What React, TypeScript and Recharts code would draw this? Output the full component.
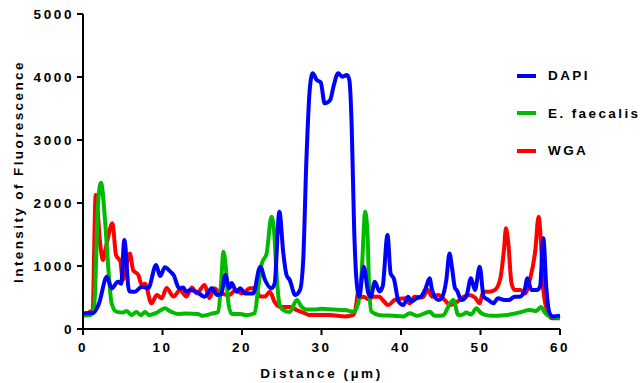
import React from 'react';
import { Label, Line, LineChart, XAxis, YAxis } from 'recharts';

// [distance µm, intensity] pairs
const dapi = [
  [0, 250], [1.3, 255], [2.0, 400], [3.0, 830], [3.6, 645], [4.4, 750], [4.8, 720], [5.2, 1413],
  [5.8, 600], [6.5, 590], [7.4, 672], [8.2, 645], [9.2, 1016], [9.7, 840], [10.3, 979], [11.0, 910],
  [11.4, 857], [12.1, 645], [12.6, 660], [13.0, 592], [13.5, 620], [14.3, 590], [15.3, 513], [16.2, 645],
  [16.9, 540], [17.4, 560], [17.9, 857], [18.4, 645], [18.7, 730], [19.3, 590], [19.75, 645], [20.4, 565],
  [21.4, 565], [22.3, 990], [22.9, 778], [23.7, 645], [24.1, 720], [24.7, 1862], [25.2, 1200], [25.6, 857],
  [26.0, 778], [26.7, 540], [27.3, 620], [27.7, 1095], [28.1, 2680], [28.55, 3846], [28.9, 4058], [29.4, 3952],
  [29.9, 3915], [30.4, 3582], [31.1, 3635], [31.5, 3846], [32.1, 4058], [32.6, 4005], [33.2, 4030], [33.5, 3952],
  [33.8, 3212], [34.1, 1624], [34.4, 778], [34.75, 513], [35.3, 990], [35.9, 566], [36.2, 513], [36.7, 750],
  [37.3, 595], [37.7, 680], [38.3, 1492], [38.7, 880], [39.1, 800], [39.7, 434], [40.3, 380], [40.9, 513],
  [41.3, 434], [41.95, 487], [42.5, 513], [43.1, 645], [43.6, 804], [43.9, 620], [44.7, 460], [45.2, 513],
  [45.7, 778], [46.1, 1200], [46.4, 990], [46.8, 645], [47.0, 620], [47.6, 460], [48.2, 513], [48.8, 804],
  [49.3, 620], [49.9, 990], [50.4, 513], [51.0, 460], [51.6, 408], [52.2, 487], [53.0, 460], [53.6, 460],
  [54.3, 513], [54.9, 513], [55.5, 590], [55.9, 804], [56.4, 620], [57.1, 620], [57.5, 680], [57.9, 1440],
  [58.3, 620], [58.7, 249], [59.1, 200], [60, 210],
];

const faecalis = [
  [0, 211], [0.9, 220], [1.4, 350], [1.9, 2000], [2.26, 2322], [2.77, 1730], [3.2, 936], [3.6, 410],
  [4.2, 275], [5.0, 260], [5.5, 285], [6.1, 220], [6.7, 270], [7.3, 220], [7.8, 270], [8.3, 220],
  [9.3, 260], [10.3, 328], [11.0, 280], [11.9, 240], [13.0, 245], [14.5, 240], [14.9, 210], [16.4, 250],
  [17.0, 270], [17.4, 778], [17.65, 1227], [18.0, 930], [18.3, 400], [18.7, 240], [19.8, 240], [20.5, 220],
  [21.6, 250], [22.05, 672], [22.5, 1043], [23.1, 1200], [23.7, 1783], [24.0, 1600], [24.4, 778], [24.7, 400],
  [25.2, 300], [26.0, 270], [26.9, 460], [27.5, 350], [28.1, 310], [29.0, 310], [30.0, 320], [31.5, 310],
  [33.0, 300], [34.0, 275], [34.6, 400], [35.05, 900], [35.5, 1862], [35.8, 1470], [36.0, 620], [36.3, 275],
  [37.35, 220], [39.0, 210], [40.3, 200], [41.1, 250], [42.0, 210], [43.65, 275], [44.2, 210], [45.3, 215],
  [45.95, 355], [46.6, 460], [47.2, 220], [47.8, 230], [48.2, 260], [48.8, 230], [49.5, 328], [50.0, 260],
  [50.7, 220], [51.5, 210], [53.0, 220], [54.5, 250], [55.0, 265], [56.2, 300], [57.0, 285], [57.6, 350],
  [58.1, 260], [58.7, 200], [60, 180],
];

const wga = [
  [0, 220], [0.95, 280], [1.2, 300], [1.6, 2127], [2.2, 1306], [2.5, 1095], [2.9, 1306], [3.7, 1677],
  [4.15, 1175], [4.7, 1070], [5.0, 778], [5.9, 1200], [6.3, 936], [6.96, 857], [7.4, 698], [7.8, 720],
  [8.6, 408], [9.3, 540], [9.9, 486], [10.5, 650], [11.4, 515], [12.2, 620], [13.0, 515], [13.7, 660],
  [14.3, 565], [15.3, 700], [15.9, 490], [16.5, 645], [17.3, 565], [18.4, 540], [19.2, 620], [20.0, 565],
  [21.0, 645], [21.6, 645], [22.3, 515], [22.9, 515], [23.5, 590], [24.1, 430], [24.8, 350], [26.0, 350],
  [26.9, 300], [27.9, 250], [28.5, 222], [31.0, 222], [33.0, 200], [34.0, 225], [34.3, 330], [34.6, 566],
  [34.9, 500], [35.3, 513], [35.9, 470], [36.5, 513], [37.3, 513], [37.7, 460], [38.4, 380], [39.2, 460],
  [40.5, 487], [41.1, 407], [41.7, 513], [42.7, 500], [43.4, 620], [43.9, 513], [44.7, 540], [45.5, 460],
  [46.2, 380], [47.1, 434], [47.6, 487], [48.5, 540], [49.3, 500], [49.9, 408], [50.35, 592], [51.0, 592],
  [51.8, 620], [52.45, 778], [52.95, 1254], [53.2, 1598], [53.5, 1360], [53.9, 725], [54.3, 620], [55.0, 620],
  [55.6, 565], [56.2, 778], [56.9, 1254], [57.3, 1783], [57.6, 1400], [57.9, 620], [58.5, 250], [59.0, 170],
  [60, 170],
];

const xTicks = [0, 10, 20, 30, 40, 50, 60];
const yTicks = [0, 1000, 2000, 3000, 4000, 5000];

const legendItems = [
  { name: 'DAPI', color: '#0000FF' },
  { name: 'E. faecalis', color: '#00BB00' },
  { name: 'WGA', color: '#FF0000' },
];

const toRows = (pairs: number[][]) => pairs.map(([x, y]) => ({ x, y }));

const font = '"Liberation Sans", Arial, sans-serif';
const tickStyle = { fill: '#000', fontSize: 13.5, fontWeight: 700, fontFamily: font, letterSpacing: 2.6 };

const ChartLegend = () => (
  <div style={{ position: 'absolute', left: 517, top: 57, width: 123, fontFamily: font }}>
    {legendItems.map(item => (
      <div key={item.name} style={{ display: 'flex', alignItems: 'center', height: 37.5, whiteSpace: 'nowrap' }}>
        <span style={{ display: 'inline-block', width: 19, height: 4, background: item.color, marginRight: 12, flexShrink: 0 }} />
        <span style={{ fontSize: 13.5, fontWeight: 700, letterSpacing: 2.4, color: '#000' }}>{item.name}</span>
      </div>
    ))}
  </div>
);

export default function App() {
  return (
    <div style={{ position: 'absolute', left: 0, top: 0, width: 640, height: 383, background: '#fff' }}>
      <LineChart width={640} height={383} margin={{ top: 14, right: 80, bottom: 24, left: 23 }}>
        <XAxis
          dataKey="x"
          type="number"
          domain={[0, 60]}
          ticks={xTicks}
          tick={tickStyle}
          tickSize={6}
          tickMargin={7}
          height={30}
          stroke="#000"
          strokeWidth={2}
          allowDuplicatedCategory={false}
        >
          <Label
            value="Distance (µm)"
            position="bottom"
            offset={9}
            style={{ fill: '#000', fontSize: 13.5, fontWeight: 700, fontFamily: font, letterSpacing: 2.6 }}
          />
        </XAxis>
        <YAxis
          type="number"
          domain={[0, 5000]}
          ticks={yTicks}
          tick={tickStyle}
          tickSize={6}
          tickMargin={3}
          width={60}
          stroke="#000"
          strokeWidth={2}
        >
          <Label
            value="Intensity of Fluorescence"
            position="center"
            angle={-90}
            dx={-35}
            style={{ fill: '#000', fontSize: 13.5, fontWeight: 700, fontFamily: font, letterSpacing: 2.4, textAnchor: 'middle' }}
          />
        </YAxis>
        <Line data={toRows(wga)} dataKey="y" name="WGA" type="monotone" stroke="#FF0000" strokeWidth={4} dot={false} isAnimationActive={false} />
        <Line data={toRows(faecalis)} dataKey="y" name="E. faecalis" type="monotone" stroke="#00BB00" strokeWidth={4} dot={false} isAnimationActive={false} />
        <Line data={toRows(dapi)} dataKey="y" name="DAPI" type="monotone" stroke="#0000FF" strokeWidth={4} dot={false} isAnimationActive={false} />
      </LineChart>
      <ChartLegend />
    </div>
  );
}
